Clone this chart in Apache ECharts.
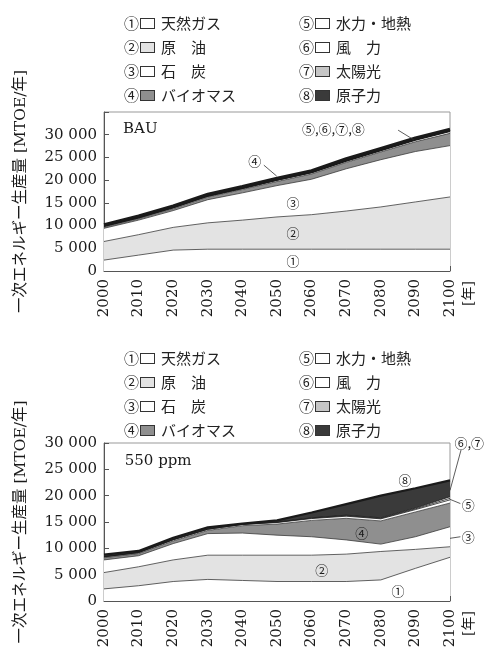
<!DOCTYPE html>
<html><head><meta charset="utf-8">
<script src="https://cdn.jsdelivr.net/npm/echarts@6/dist/echarts.min.js"></script>
<style>html,body{margin:0;padding:0;background:#fff}#c{width:491px;height:653px}</style>
</head><body><div id="c"></div>
<script>
// ---- data ----
const years = ['2000','2010','2020','2030','2040','2050','2060','2070','2080','2090','2100'];
const sourceNames = ['天然ガス','原　油','石　炭','バイオマス','水力・地熱','風　力','太陽光','原子力'];
const circled = ['①','②','③','④','⑤','⑥','⑦','⑧'];
const yTicksBAU = [0,5000,10000,15000,20000,25000,30000];
const yTicks550 = [0,5000,10000,15000,20000,25000,30000];

// BAU scenario [MTOE/year]
const bauGas     = [2400,3500,4600,4800,4800,4800,4800,4800,4800,4800,4800];
const bauOil     = [4100,4500,5000,5800,6400,7100,7600,8400,9300,10400,11500];
const bauCoal    = [2900,3200,3700,5100,6000,6900,7800,9300,10400,11100,11300];
const bauBiomass = [200,300,400,550,750,900,1150,1400,1700,2150,2700];
const bauHydro   = [250,250,250,250,250,300,300,300,300,350,400];
const bauWind    = [0,0,50,50,50,50,50,100,100,100,150];
const bauSolar   = [0,0,0,0,0,0,50,50,50,50,100];
const bauNuclear = [350,350,300,350,350,350,350,350,350,350,250];

// 550 ppm scenario [MTOE/year]
const ppmGas     = [2300,2900,3700,4100,3900,3700,3700,3700,4000,6200,8300];
const ppmOil     = [3100,3600,4100,4600,4800,5000,5000,5200,5400,3600,2000];
const ppmCoal    = [2400,2100,3100,4100,4200,3800,3500,2700,1400,2400,3800];
const ppmBiomass = [400,400,500,600,1400,2100,3100,4100,4400,4700,4500];
const ppmHydro   = [200,200,250,250,250,300,350,400,400,450,600];
const ppmWind    = [0,0,0,0,0,50,100,100,100,150,300];
const ppmSolar   = [0,0,0,0,0,50,50,100,100,150,300];
const ppmNuclear = [400,300,350,350,150,300,1000,2100,4200,3750,3100];

const bauSets = [bauGas,bauOil,bauCoal,bauBiomass,bauHydro,bauWind,bauSolar,bauNuclear];
const ppmSets = [ppmGas,ppmOil,ppmCoal,ppmBiomass,ppmHydro,ppmWind,ppmSolar,ppmNuclear];

// ---- styling ----
const fills = ['#ffffff','#e3e3e3','#ffffff','#8f8f8f','#ffffff','#ffffff','#c6c6c6','#3a3a3a'];
const serif = "'DejaVu Serif','Noto Sans CJK JP'";
const cjk = "'Noto Sans CJK JP'";
const fmtNum = v => String(v).replace(/\B(?=(\d{3})+(?!\d))/g, ' ');

function makeSeries(sets, gi, stackId, thinTop, topWidth) {
  return sets.map((vals, i) => ({
    name: sourceNames[i],
    type: 'line',
    xAxisIndex: gi, yAxisIndex: gi,
    stack: stackId,
    data: vals,
    showSymbol: false,
    smooth: false,
    lineStyle: {
      color: i >= 4 ? '#1a1a1a' : '#3a3a3a',
      width: i === 7 ? topWidth : (i >= 4 ? thinTop : 0.8)
    },
    itemStyle: { color: fills[i] },
    areaStyle: { color: fills[i], opacity: 1 },
    emphasis: { disabled: true },
    silent: true
  }));
}

function legendCol(names, left, top) {
  const rich = {
    n: { fontFamily: cjk, fontSize: 15, color: '#222', padding: [0, 2, 0, 0] },
    t: { fontFamily: cjk, fontSize: 15, color: '#222', padding: [0, 0, 0, 7] }
  };
  sourceNames.forEach((nm, i) => {
    rich['b' + i] = { width: 13, height: 9, borderColor: '#333', borderWidth: 1, backgroundColor: fills[i] };
  });
  return {
    orient: 'vertical', left, top,
    itemWidth: 0, itemHeight: 0, itemGap: 5,
    selectedMode: false,
    data: names,
    formatter: nm => {
      const i = sourceNames.indexOf(nm);
      return '{n|' + circled[i] + '}{b' + i + '|}{t|' + nm + '}';
    },
    textStyle: { rich, lineHeight: 19 }
  };
}

function xAxis(gi) {
  return {
    type: 'category', gridIndex: gi, data: years, boundaryGap: false,
    axisLine: { lineStyle: { color: '#555', width: 1 } },
    axisTick: { inside: true, length: 5, interval: 0, lineStyle: { color: '#555' } },
    axisLabel: { rotate: 90, margin: 8, interval: 0, fontFamily: serif, fontSize: 15, color: '#1a1a1a' },
    splitLine: { show: false }
  };
}
// hidden continuous year axis used only to place annotations
function yearAxis(gi) {
  return { type: 'value', gridIndex: gi, min: 2000, max: 2100, show: false };
}
function yAxis(gi, max, ticks) {
  return {
    type: 'value', gridIndex: gi, min: 0, max, interval: 5000,
    name: '一次エネルギー生産量 [MTOE/年]', nameLocation: 'middle', nameRotate: 90, nameGap: 75,
    nameTextStyle: { fontFamily: serif, fontSize: 15.5, color: '#1a1a1a' },
    axisLine: { show: true, lineStyle: { color: '#555', width: 1 } },
    axisTick: { inside: true, length: 5, lineStyle: { color: '#555' } },
    axisLabel: { margin: 7, fontFamily: serif, fontSize: 15, color: '#1a1a1a',
      formatter: v => ticks.indexOf(v) >= 0 ? fmtNum(v) : '' },
    splitLine: { show: false }
  };
}

const chart = echarts.init(document.getElementById('c'), null, { renderer: 'canvas' });
const option = {
  backgroundColor: '#fff',
  animation: false,
  grid: [
    { left: 104, right: 41, top: 112, height: 159, show: true, borderColor: '#999', borderWidth: 1, backgroundColor: 'transparent' },
    { left: 104, right: 41, top: 443, height: 158, show: true, borderColor: '#999', borderWidth: 1, backgroundColor: 'transparent' }
  ],
  legend: [
    legendCol(sourceNames.slice(0, 4), 113, 9),
    legendCol(sourceNames.slice(4), 288, 9),
    legendCol(sourceNames.slice(0, 4), 113, 344),
    legendCol(sourceNames.slice(4), 288, 344)
  ],
  xAxis: [xAxis(0), xAxis(1), yearAxis(0), yearAxis(1)],
  yAxis: [yAxis(0, 35000, yTicksBAU), yAxis(1, 30000, yTicks550)],
  series: [...makeSeries(bauSets, 0, 'bau', 1.2, 3), ...makeSeries(ppmSets, 1, 'ppm', 0.8, 2.2)]
};
chart.setOption(option);

// ---- annotations (year, value) ----
const bauNotes = [
  { t: 'BAU', at: [2005.5, 31300], font: serif, size: 15, align: 'left' },
  { t: '⑤,⑥,⑦,⑧', at: [2066.3, 31300] },
  { t: '④', at: [2043.6, 24300] },
  { t: '③', at: [2054.6, 15000] },
  { t: '②', at: [2054.6, 8400] },
  { t: '①', at: [2054.6, 2100] }
];
const bauLeaders = [
  [[2085, 31000], [2089.5, 28900]],
  [[2046.2, 23300], [2049.9, 20900]]
];
const ppmNotes = [
  { t: '550 ppm', at: [2006, 26500], font: serif, size: 15, align: 'left' },
  { t: '⑧', at: [2087, 23000] },
  { t: '④', at: [2074.5, 12900] },
  { t: '②', at: [2062.9, 5900] },
  { t: '①', at: [2085, 1800] },
  { t: '⑥,⑦', at: [2101.3, 30000], align: 'left' },
  { t: '⑤', at: [2105.3, 18200] },
  { t: '③', at: [2105.3, 12200] }
];
const ppmLeaders = [
  [[2103.2, 28700], [2100, 21000]],
  [[2103.0, 18500], [2100, 19300]],
  [[2103.0, 12200], [2100, 11900]]
];

const toPx = (gi, yr, v) => chart.convertToPixel({ xAxisIndex: gi + 2, yAxisIndex: gi }, [yr, v]);
const graphics = [];
function addNotes(gi, notes, leaders) {
  notes.forEach(n => {
    const p = toPx(gi, n.at[0], n.at[1]);
    graphics.push({
      type: 'text', x: p[0], y: p[1], silent: true, z: 50,
      style: { text: n.t, fill: '#1a1a1a', font: (n.size || 13) + 'px ' + (n.font || cjk),
        textAlign: n.align || 'center', textVerticalAlign: 'middle' }
    });
  });
  leaders.forEach(l => {
    const a = toPx(gi, l[0][0], l[0][1]);
    const b = toPx(gi, l[1][0], l[1][1]);
    graphics.push({ type: 'line', silent: true, z: 50,
      shape: { x1: a[0], y1: a[1], x2: b[0], y2: b[1] },
      style: { stroke: '#333', lineWidth: 0.8 } });
  });
  const e = toPx(gi, 2100, 0);
  graphics.push({ type: 'text', x: e[0] + 19, y: e[1] + 10, rotation: Math.PI / 2, silent: true, z: 50,
    style: { text: '[年]', fill: '#1a1a1a', font: '14px ' + serif, textAlign: 'right', textVerticalAlign: 'middle' } });
}
addNotes(0, bauNotes, bauLeaders);
addNotes(1, ppmNotes, ppmLeaders);
chart.setOption({ graphic: graphics });
</script>
</body></html>
